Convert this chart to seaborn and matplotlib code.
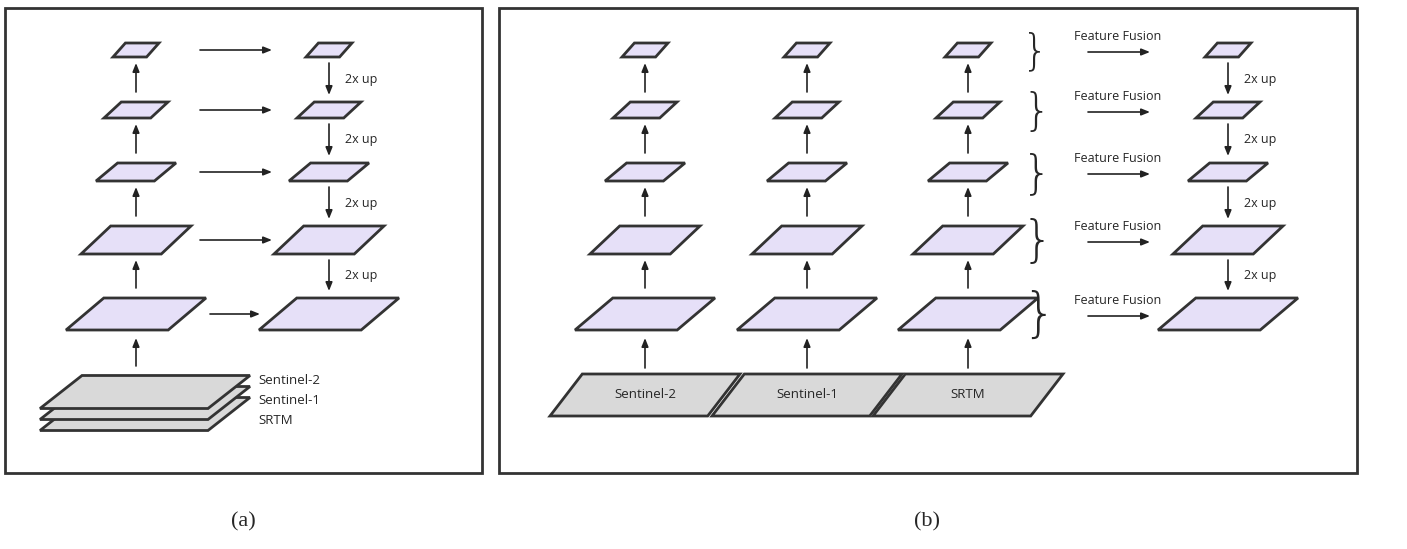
import numpy as np
import matplotlib.pyplot as plt
import seaborn as sns
from matplotlib.patches import Polygon, Rectangle

sns.set_style("white")
plt.rcParams['font.family'] = ['Open Sans', 'DejaVu Sans']

# pyramid levels (top to bottom): centre y, span, height
level_y = [50, 110, 172, 240, 314]
level_w = [46, 64, 80, 110, 140]
level_h = [14, 16, 18, 28, 32]
up_label = "2x up"
fusion_label = "Feature Fusion"
inputs = ["Sentinel-2", "Sentinel-1", "SRTM"]

# panel (a) columns, panel (b) columns
a_cols = [136, 329]
b_cols = [645, 807, 968]
b_out = 1228

LAV = "#E6E0F8"
GRAY = "#D9D9D9"
EDGE = "#333333"

fig = plt.figure(figsize=(14.07, 5.49), dpi=100)
ax = fig.add_axes([0, 0, 1, 1])
ax.set_xlim(0, 1407)
ax.set_ylim(549, 0)
ax.axis("off")


def para(cx, cy, w, h, color, skew=0.27):
    s = w * skew
    pts = [(cx - w/2, cy + h/2), (cx + w/2 - s, cy + h/2),
           (cx + w/2, cy - h/2), (cx - w/2 + s, cy - h/2)]
    ax.add_patch(Polygon(pts, closed=True, fc=color, ec=EDGE, lw=2, zorder=3))


def arrow(x0, y0, x1, y1):
    ax.annotate("", xy=(x1, y1), xytext=(x0, y0),
                arrowprops=dict(arrowstyle="-|>,head_length=0.5,head_width=0.2",
                                color="#222222", lw=1.2, shrinkA=0, shrinkB=0))


def up_column(cx):
    for i in range(len(level_y)):
        para(cx, level_y[i], level_w[i], level_h[i], LAV)
        if i > 0:
            arrow(cx, level_y[i] - level_h[i]/2 - 10, cx, level_y[i-1] + level_h[i-1]/2 + 6)


def down_column(cx):
    for i in range(len(level_y)):
        para(cx, level_y[i], level_w[i], level_h[i], LAV)
        if i > 0:
            y0 = level_y[i-1] + level_h[i-1]/2 + 6
            y1 = level_y[i] - level_h[i]/2 - 7
            arrow(cx, y0, cx, y1)
            ax.text(cx + 16, (y0 + y1)/2, up_label, fontsize=9, va="center", ha="left")


# frames
ax.add_patch(Rectangle((5, 8), 477, 465, fill=False, ec="#333333", lw=2))
ax.add_patch(Rectangle((499, 8), 858, 465, fill=False, ec="#333333", lw=2))

# ---- panel (a)
up_column(a_cols[0])
down_column(a_cols[1])
for i in range(len(level_y)):
    x0 = 200 if i < 4 else 210
    arrow(x0, level_y[i], 272 if i < 4 else 260, level_y[i])
for k in range(3):
    para(145, 392 + 11*(2-k), 210, 33, GRAY, skew=0.2)
arrow(136, 366, 136, 338)
for k, name in enumerate(inputs):
    ax.text(258, 381 + 20*k, name, fontsize=9.5, va="center", ha="left")

# ---- panel (b)
for cx, name in zip(b_cols, inputs):
    up_column(cx)
    para(cx, 395, 190, 42, GRAY, skew=0.17)
    ax.text(cx, 395, name, fontsize=9.5, va="center", ha="center")
    arrow(cx, 368, cx, level_y[-1] + level_h[-1]/2 + 8)
down_column(b_out)
for i in range(len(level_y)):
    ax.text(1022, level_y[i] + 2, "}", fontsize=30 + 2*i, va="center", ha="left",
            family="DejaVu Sans", fontweight="light")
    ax.text(1074, level_y[i] - 14, fusion_label, fontsize=9, va="center", ha="left")
    arrow(1088, level_y[i] + 2, 1150, level_y[i] + 2)

ax.text(243, 522, "(a)", fontsize=16, family="Liberation Serif", ha="center", va="center")
ax.text(927, 522, "(b)", fontsize=16, family="Liberation Serif", ha="center", va="center")

fig.savefig("out.png", dpi=100)
